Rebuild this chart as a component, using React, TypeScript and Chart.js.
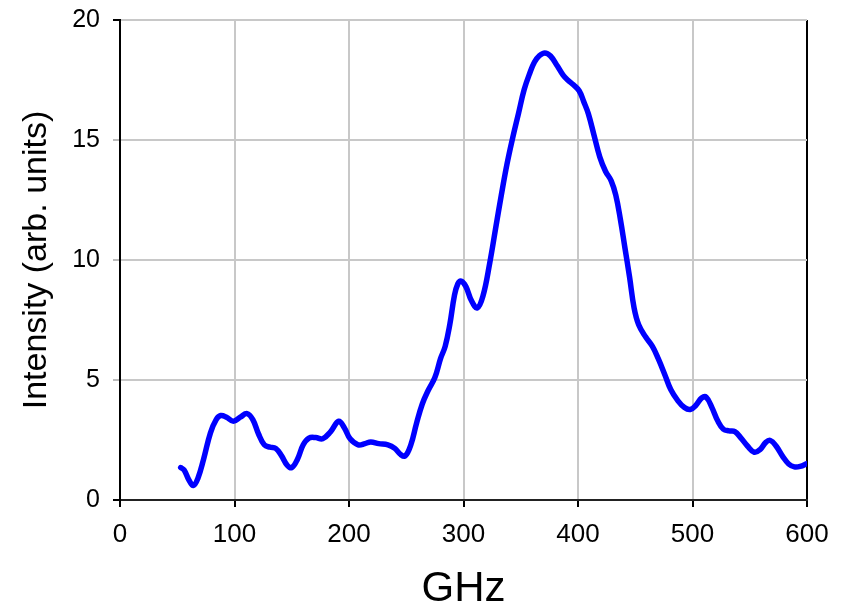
import React, { useEffect, useRef } from "react";
import { Chart, registerables } from "chart.js";

Chart.register(...registerables);

const frequencyGHz = [
  53, 56, 60, 64, 68, 73, 79, 84, 88, 93, 99, 105, 111, 116, 121, 126, 131, 136, 141, 146,
  150, 155, 160, 165, 171, 177, 184, 191, 196, 201, 208, 214, 219, 226, 234, 240, 245, 249,
  254, 259, 264, 269, 275, 280, 284, 288, 292, 295, 298, 302, 307, 312, 317, 323, 328, 333, 338,
  343, 348, 353, 358, 362, 366, 371, 376, 382, 387, 391, 396, 401, 405, 409, 414, 419, 424,
  429, 433, 437, 441, 445, 449, 453, 459, 465, 470, 476, 481, 487, 493, 498, 503, 508, 512,
  517, 522, 527, 532, 537, 542, 548, 554, 559, 564, 568, 573, 579, 584, 589, 594, 600,
];
const intensity = [
  1.35, 1.25, 0.85, 0.6, 0.9, 1.7, 2.8, 3.35, 3.52, 3.45, 3.28, 3.45, 3.6, 3.35, 2.75, 2.3,
  2.2, 2.15, 1.85, 1.45, 1.35, 1.7, 2.3, 2.58, 2.6, 2.55, 2.85, 3.28, 3.0, 2.55, 2.3, 2.35,
  2.42, 2.35, 2.3, 2.15, 1.9, 1.83, 2.3, 3.2, 4.0, 4.55, 5.1, 5.9, 6.4, 7.3, 8.5, 9.0, 9.12, 8.9,
  8.3, 8.0, 8.5, 9.9, 11.3, 12.7, 14.0, 15.1, 16.1, 17.1, 17.8, 18.25, 18.5, 18.63, 18.5,
  18.08, 17.7, 17.5, 17.3, 17.05, 16.6, 16.1, 15.2, 14.3, 13.7, 13.3, 12.7, 11.7, 10.5, 9.3,
  8.0, 7.3, 6.8, 6.4, 5.9, 5.2, 4.6, 4.15, 3.85, 3.77, 3.95, 4.25, 4.28, 3.85, 3.3, 2.95,
  2.88, 2.85, 2.6, 2.25, 1.99, 2.1, 2.4, 2.48, 2.25, 1.8, 1.5, 1.38, 1.4, 1.52,
];

const xTitle = "GHz";
const yTitle = "Intensity (arb. units)";
const xMin = 0;
const xMax = 600;
const xStep = 100;
const yMin = 0;
const yMax = 20;
const yStep = 5;

const FONT = "'Liberation Sans', Arial, sans-serif";

export default function App() {
  const canvasRef = useRef<HTMLCanvasElement | null>(null);

  useEffect(() => {
    const canvas = canvasRef.current;
    if (!canvas) return;
    const points = frequencyGHz.map((x, i) => ({ x, y: intensity[i] }));
    const chart = new Chart(canvas, {
      type: "line",
      data: {
        datasets: [
          {
            data: points,
            borderColor: "#0000ff",
            borderWidth: 5.5,
            pointRadius: 0,
            tension: 0.4,
            borderJoinStyle: "round",
            borderCapStyle: "round",
            fill: false,
          },
        ],
      },
      options: {
        responsive: false,
        animation: false,
        devicePixelRatio: 1,
        layout: { padding: { left: 0, top: 20, right: 36, bottom: 0 } },
        plugins: { legend: { display: false }, tooltip: { enabled: false } },
        scales: {
          x: {
            type: "linear",
            min: xMin,
            max: xMax,
            ticks: {
              stepSize: xStep,
              color: "#000",
              font: { family: FONT, size: 26 },
              padding: 12,
              maxRotation: 0,
            },
            grid: {
              color: (c: any) => (c.tick && c.tick.value === xMax ? "#000" : "#c8c8c8"),
              lineWidth: 2,
              tickLength: 7,
              tickColor: "#000",
            },
            border: { color: "#222", width: 2 },
            title: {
              display: true,
              text: xTitle,
              color: "#000",
              font: { family: FONT, size: 42, lineHeight: 1 },
              padding: { top: 0, bottom: 0 },
            },
            afterFit: (s: any) => {
              s.height = 110;
              s.paddingLeft = 0;
              s.paddingRight = 0;
            },
          },
          y: {
            type: "linear",
            min: yMin,
            max: yMax,
            ticks: {
              stepSize: yStep,
              color: "#000",
              font: { family: FONT, size: 25 },
              padding: 13,
            },
            grid: {
              color: "#c8c8c8",
              lineWidth: 2,
              tickLength: 7,
              tickColor: (c: any) =>
                c.tick && (c.tick.value === yMin || c.tick.value === yMax) ? "#000" : "#bbbbbb",
            },
            border: { color: "#000", width: 2 },
            title: {
              display: true,
              text: yTitle,
              color: "#000",
              font: { family: FONT, size: 34, lineHeight: 1 },
              padding: { top: 20, bottom: 0 },
            },
            afterFit: (s: any) => {
              s.width = 120;
              s.paddingTop = 0;
              s.paddingBottom = 0;
            },
          },
        },
      },
    });
    return () => chart.destroy();
  }, []);

  return (
    <div style={{ position: "absolute", left: 0, top: 0, width: 843, height: 610, background: "#fff" }}>
      <canvas ref={canvasRef} width={843} height={610} style={{ display: "block" }} />
    </div>
  );
}
